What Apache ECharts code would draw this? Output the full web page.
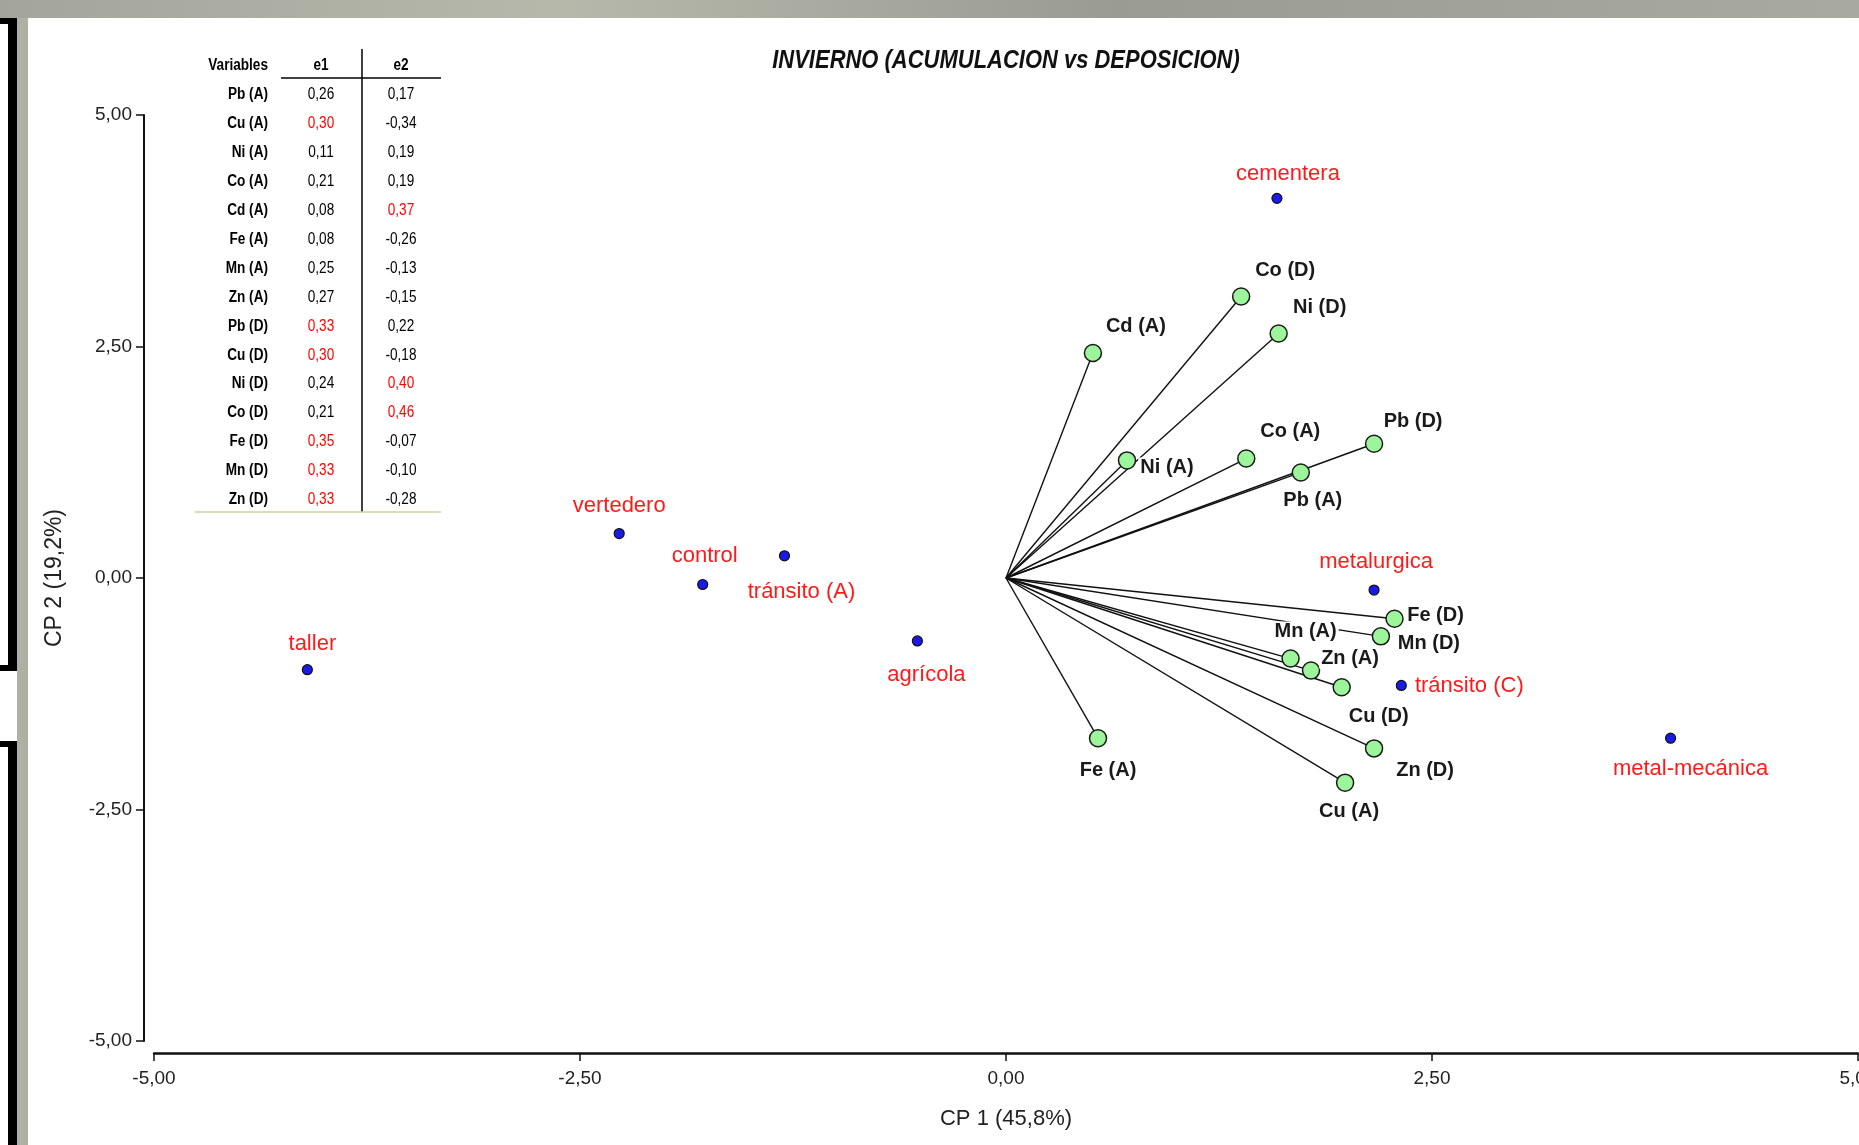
<!doctype html>
<html lang="es">
<head>
<meta charset="UTF-8">
<title>Invierno (acumulación vs deposición)</title>
<script src="https://cdn.jsdelivr.net/npm/echarts@6/dist/echarts.min.js"></script>
<style>
    html, body { margin: 0; padding: 0; background: #fff; }
    #chart { width: 1859px; height: 1145px; }
</style>
</head>
<body>
<div id="chart"></div>
<script>
// sitios de muestreo (puntos azules)
var siteNames = ['cementera', 'vertedero', 'control', 'tránsito (A)', 'agrícola', 'taller', 'metalurgica', 'tránsito (C)', 'metal-mecánica'];
var siteX = [1.59, -2.27, -1.78, -1.30, -0.52, -4.10, 2.16, 2.32, 3.90];
var siteY = [4.10, 0.48, -0.07, 0.24, -0.68, -0.99, -0.13, -1.16, -1.73];

// variables (vectores verdes)
var varNames = ['Co (D)', 'Ni (D)', 'Cd (A)', 'Ni (A)', 'Co (A)', 'Pb (D)', 'Pb (A)', 'Fe (D)', 'Mn (D)', 'Mn (A)', 'Zn (A)', 'Cu (D)', 'Zn (D)', 'Cu (A)', 'Fe (A)'];
var varX = [1.38, 1.60, 0.51, 0.71, 1.41, 2.16, 1.73, 2.28, 2.20, 1.67, 1.79, 1.97, 2.16, 1.99, 0.54];
var varY = [3.04, 2.64, 2.43, 1.27, 1.29, 1.45, 1.14, -0.44, -0.63, -0.87, -1.00, -1.18, -1.84, -2.21, -1.73];

// tabla de autovectores
var tableVars = ['Pb (A)', 'Cu (A)', 'Ni (A)', 'Co (A)', 'Cd (A)', 'Fe (A)', 'Mn (A)', 'Zn (A)', 'Pb (D)', 'Cu (D)', 'Ni (D)', 'Co (D)', 'Fe (D)', 'Mn (D)', 'Zn (D)'];
var tableE1 = [0.26, 0.30, 0.11, 0.21, 0.08, 0.08, 0.25, 0.27, 0.33, 0.30, 0.24, 0.21, 0.35, 0.33, 0.33];
var tableE2 = [0.17, -0.34, 0.19, 0.19, 0.37, -0.26, -0.13, -0.15, 0.22, -0.18, 0.40, 0.46, -0.07, -0.10, -0.28];

var axisTicks = [-5, -2.5, 0, 2.5, 5];

// desplazamiento de etiquetas (px, centro de la etiqueta respecto al punto)
var labelShift = {
    'Co (D)': [44, -26], 'Ni (D)': [41, -26], 'Cd (A)': [43, -26], 'Ni (A)': [40, 7],
    'Co (A)': [44, -27], 'Pb (D)': [39, -22], 'Pb (A)': [12, 28], 'Fe (D)': [41, -3],
    'Mn (D)': [48, 7], 'Mn (A)': [15, -27], 'Zn (A)': [39, -12], 'Cu (D)': [37, 29],
    'Zn (D)': [51, 22], 'Cu (A)': [4, 29], 'Fe (A)': [10, 32],
    'cementera': [11, -24], 'vertedero': [0, -28], 'control': [2, -29], 'tránsito (A)': [17, 36],
    'agrícola': [9, 34], 'taller': [5, -26], 'metalurgica': [2, -28], 'tránsito (C)': [68, 1],
    'metal-mecánica': [20, 31]
};

var sans = "'Liberation Sans', Arial, sans-serif";

function coma(v, d) {
    return v.toFixed(d).replace('.', ',');
}

var myChart = echarts.init(document.getElementById('chart'));

// tabla arriba a la izquierda (letra estrecha: se comprime en horizontal)
var tabla = [];
var rowY0 = 95, rowStep = 28.9;
function celda(txt, x, y, align, color, bold) {
    return {
        type: 'text', x: x, y: y, z: 50, scaleX: 0.85,
        style: {
            text: txt, fill: color, fontFamily: sans, fontSize: 16,
            fontWeight: bold ? 'bold' : 'normal',
            align: align, textAlign: align, verticalAlign: 'middle', textVerticalAlign: 'middle'
        }
    };
}
tabla.push(celda('Variables', 268, 66, 'right', '#000', true));
tabla.push(celda('e1', 321, 66, 'center', '#000', true));
tabla.push(celda('e2', 401, 66, 'center', '#000', true));
for (var i = 0; i < tableVars.length; i++) {
    var y = rowY0 + i * rowStep;
    tabla.push(celda(tableVars[i], 268, y, 'right', '#000', true));
    tabla.push(celda(coma(tableE1[i], 2), 321, y, 'center', tableE1[i] >= 0.30 ? '#ff0000' : '#000', false));
    tabla.push(celda(coma(tableE2[i], 2), 401, y, 'center', tableE2[i] >= 0.30 ? '#ff0000' : '#000', false));
}
tabla.push({type: 'line', z: 50, shape: {x1: 281, y1: 78, x2: 441, y2: 78}, style: {stroke: '#000', lineWidth: 1.5}});
tabla.push({type: 'line', z: 50, shape: {x1: 362, y1: 49, x2: 362, y2: 512}, style: {stroke: '#000', lineWidth: 1.5}});
tabla.push({type: 'line', z: 50, shape: {x1: 195, y1: 512, x2: 441, y2: 512}, style: {stroke: '#c5d6a4', lineWidth: 1.5}});

// marco gris / negro de la captura
var marco = [
    {type: 'rect', z: 0, shape: {x: 0, y: 0, width: 1859, height: 18},
        style: {fill: new echarts.graphic.LinearGradient(0, 0, 1, 0, [
            {offset: 0, color: '#a3a59c'}, {offset: 0.3, color: '#b6b8aa'},
            {offset: 0.6, color: '#9a9c94'}, {offset: 1, color: '#a8aa9f'}])}},
    {type: 'rect', z: 0, shape: {x: 17, y: 18, width: 11, height: 1127}, style: {fill: '#aeb0a3'}},
    {type: 'rect', z: 0, shape: {x: 8, y: 21, width: 9, height: 650}, style: {fill: '#000'}},
    {type: 'rect', z: 0, shape: {x: 0, y: 18, width: 17, height: 6}, style: {fill: '#000'}},
    {type: 'rect', z: 0, shape: {x: 0, y: 665, width: 17, height: 6}, style: {fill: '#000'}},
    {type: 'rect', z: 0, shape: {x: 0, y: 741, width: 17, height: 6}, style: {fill: '#000'}},
    {type: 'rect', z: 0, shape: {x: 8, y: 741, width: 9, height: 404}, style: {fill: '#000'}},
    {type: 'text', z: 50, x: 1006, y: 61, scaleX: 0.845,
        style: {text: 'INVIERNO (ACUMULACION vs DEPOSICION)', fill: '#111', fontFamily: sans,
            fontSize: 26, fontWeight: 'bold', fontStyle: 'italic',
            align: 'center', textAlign: 'center', verticalAlign: 'middle', textVerticalAlign: 'middle'}}
];

function puntos(names, xs, ys) {
    return names.map(function (n, i) {
        return {
            name: n, value: [xs[i], ys[i]],
            label: {offset: labelShift[n] || [0, 0]}
        };
    });
}

var option = {
    backgroundColor: '#fff',
    animation: false,
    grid: {left: 154, right: 1, top: 115, bottom: 104, containLabel: false, outerBoundsMode: 'none'},
    xAxis: {
        type: 'value', min: axisTicks[0], max: axisTicks[axisTicks.length - 1], interval: 2.5,
        offset: 12,
        name: 'CP 1 (45,8%)', nameLocation: 'middle', nameGap: 55,
        nameTextStyle: {fontFamily: sans, fontSize: 22, color: '#222'},
        axisLine: {onZero: false, lineStyle: {color: '#111', width: 2.5}},
        axisTick: {length: 8, lineStyle: {color: '#111', width: 1.5}},
        axisLabel: {margin: 16, fontFamily: sans, fontSize: 19, color: '#222',
            formatter: function (v) { return coma(v, 2); }},
        splitLine: {show: false}
    },
    yAxis: {
        type: 'value', min: axisTicks[0], max: axisTicks[axisTicks.length - 1], interval: 2.5,
        offset: 10,
        name: 'CP 2 (19,2%)', nameLocation: 'middle', nameGap: 78,
        nameTextStyle: {fontFamily: sans, fontSize: 23, color: '#222'},
        axisLine: {onZero: false, lineStyle: {color: '#111', width: 2}},
        axisTick: {length: 8, lineStyle: {color: '#111', width: 1.5}},
        axisLabel: {margin: 12, fontFamily: sans, fontSize: 19, color: '#222',
            formatter: function (v) { return coma(v, 2); }},
        splitLine: {show: false}
    },
    graphic: marco.concat(tabla),
    series: [
        {
            type: 'lines', coordinateSystem: 'cartesian2d', silent: true, z: 1,
            lineStyle: {color: '#111', width: 1.4, opacity: 1},
            data: varNames.map(function (n, i) {
                return {coords: [[0, 0], [varX[i], varY[i]]]};
            })
        },
        {
            name: 'variables', type: 'scatter', z: 3,
            symbol: 'circle', symbolSize: 17,
            itemStyle: {color: '#9cf59a', borderColor: '#1a1a1a', borderWidth: 1.5, opacity: 1},
            label: {
                show: true, position: 'inside', formatter: '{b}',
                fontFamily: sans, fontSize: 20, fontWeight: 'bold', color: '#1a1a1a',
                backgroundColor: '#fff', padding: [0, 2]
            },
            data: puntos(varNames, varX, varY)
        },
        {
            name: 'sitios', type: 'scatter', z: 3,
            symbol: 'circle', symbolSize: 10,
            itemStyle: {color: '#1a1ae8', borderColor: '#111', borderWidth: 1.2, opacity: 1},
            label: {
                show: true, position: 'inside', formatter: '{b}',
                fontFamily: sans, fontSize: 22, color: '#ff1a1a'
            },
            data: puntos(siteNames, siteX, siteY)
        }
    ]
};

myChart.setOption(option);
</script>
</body>
</html>
